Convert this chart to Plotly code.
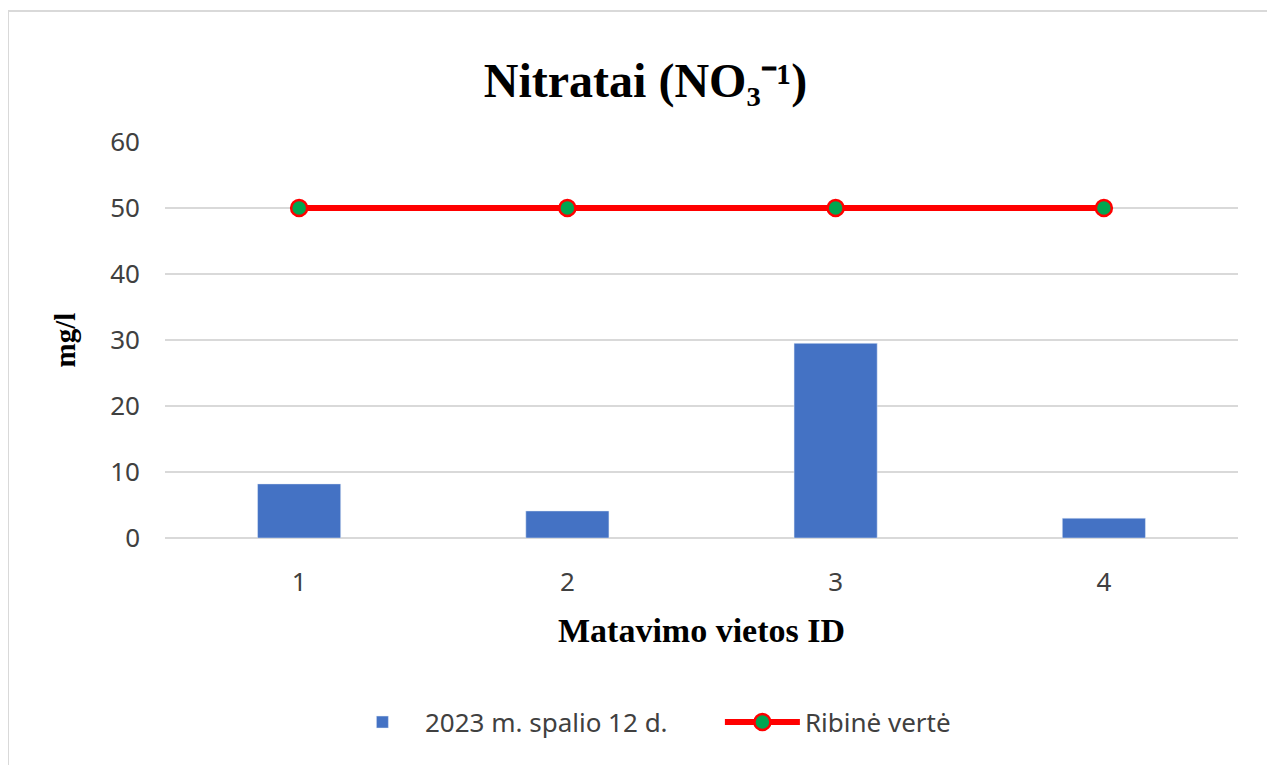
import plotly.graph_objects as go

# measurement site IDs
sites = ["1", "2", "3", "4"]
# nitrate concentration, mg/l (2023-10-12)
nitrates = [8.2, 4.1, 29.5, 3.0]
# limit value
limit = [50, 50, 50, 50]

tick_font = dict(family="Noto Sans, Liberation Sans, sans-serif", size=26, color="#404040")
serif_bold = "Liberation Serif, Times New Roman, serif"

fig = go.Figure()
fig.add_trace(go.Bar(x=sites, y=nitrates, name="2023 m. spalio 12 d.",
                     marker=dict(color="#4472c4")))
fig.add_trace(go.Scatter(x=sites, y=limit, name="Ribinė vertė", mode="lines+markers",
                         line=dict(color="#ff0000", width=6),
                         marker=dict(color="#00a651", size=16,
                                     line=dict(color="#ff0000", width=2.5))))

fig.update_layout(
    width=1275, height=765,
    margin=dict(l=157, r=45, t=134, b=235),
    paper_bgcolor="white", plot_bgcolor="white",
    bargap=0.69,
    title=dict(text="<b>Nitratai (NO₃⁻¹)</b>", x=0.5, xanchor="center", y=0.905, yanchor="middle",
               font=dict(family=serif_bold, size=48, color="black")),
    legend=dict(orientation="h", x=0.163, xanchor="left", y=-0.465, yanchor="middle",
                font=tick_font, itemwidth=75, entrywidth=290, tracegroupgap=0),
    shapes=[dict(type="rect", xref="paper", yref="paper",
                 x0=-0.1463, x1=1.0336, y0=-0.62, y1=1.331,
                 line=dict(color="#d9d9d9", width=2))],
)
fig.update_xaxes(tickfont=tick_font, ticklabelstandoff=26, showgrid=False,
                 title=dict(text="<b>Matavimo vietos ID</b>", standoff=20,
                            font=dict(family=serif_bold, size=34, color="black")))
fig.update_yaxes(range=[0, 60], dtick=10, tickfont=tick_font, ticklabelstandoff=24,
                 gridcolor="#d9d9d9", gridwidth=1.5, zeroline=True, zerolinecolor="#d9d9d9",
                 zerolinewidth=1.5,
                 title=dict(text="<b>mg/l</b>", standoff=26,
                            font=dict(family=serif_bold, size=29, color="black")))

fig.write_html("out.html")
